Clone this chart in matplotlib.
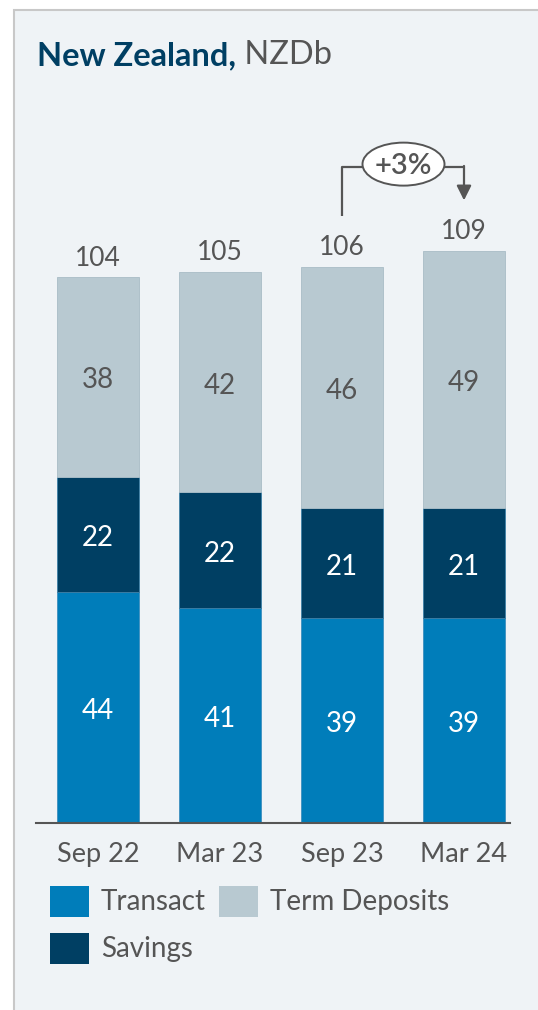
import matplotlib.pyplot as plt
from matplotlib.patches import Ellipse, Rectangle

# Chart data
periods = ['Sep 22', 'Mar 23', 'Sep 23', 'Mar 24']
transact = [44, 41, 39, 39]
savings = [22, 22, 21, 21]
term_deposits = [38, 42, 46, 49]
totals = [104, 105, 106, 109]
change_label = '+3%'

c_transact = '#007dba'
c_savings = '#003f63'
c_td = '#b8c9d1'
c_text = '#555555'
c_bg = '#eff3f6'

plt.rcParams['font.family'] = ['Lato', 'DejaVu Sans']

W, H = 538, 1010
fig = plt.figure(figsize=(W / 100, H / 100), dpi=100)
fig.patch.set_facecolor('white')

# panel background with thin grey border on top / left
fig.patches.append(Rectangle((14 / W, -0.01), 1, 1.01 - 10 / H, transform=fig.transFigure,
                             facecolor=c_bg, edgecolor='#c8c8c8', linewidth=1.5, zorder=-10))

# axes placed in pixel terms
x0, x1 = 36, 510
base, top = 823, 100
ax = fig.add_axes([x0 / W, 1 - base / H, (x1 - x0) / W, (base - top) / H])
ax.set_facecolor('none')
px_unit = 122.0
ax.set_xlim(-(98 - x0) / px_unit, 3 + (x1 - 464) / px_unit)
ax.set_ylim(0, (base - top) / 5.25)

xs = list(range(len(periods)))
bw = 82 / px_unit
ax.bar(xs, transact, bw, color=c_transact, edgecolor='#3d8fbf', linewidth=0.6)
ax.bar(xs, savings, bw, bottom=transact, color=c_savings, edgecolor='#3d7fa6', linewidth=0.6)
bottom_td = [t + s for t, s in zip(transact, savings)]
ax.bar(xs, term_deposits, bw, bottom=bottom_td, color=c_td, edgecolor='#a9bcc6', linewidth=0.6)

# segment labels sit a touch below centre, like the original typeface
dy = -0.7
for i in xs:
    ax.text(i, transact[i] / 2 + dy, str(transact[i]), ha='center', va='center',
            color='white', fontsize=20)
    ax.text(i, transact[i] + savings[i] / 2 + dy, str(savings[i]), ha='center', va='center',
            color='white', fontsize=20)
    ax.text(i, bottom_td[i] + term_deposits[i] / 2 + dy, str(term_deposits[i]), ha='center',
            va='center', color=c_text, fontsize=20)
    ax.text(i, totals[i] + 1.2, str(totals[i]), ha='center', va='bottom',
            color=c_text, fontsize=19)

# growth bracket Sep 23 -> Mar 24
y_h = 125.0
ax.plot([2, 2, 3], [115.6, y_h, y_h], color=c_text, lw=1.6, solid_capstyle='butt')
ax.annotate('', xy=(3, 118.6), xytext=(3, y_h + 0.15),
            arrowprops=dict(arrowstyle='-|>', color=c_text, lw=1.6,
                            mutation_scale=22, shrinkA=0, shrinkB=0))
ex = 2 + (403 - 341.5) / px_unit
ax.add_patch(Ellipse((ex, 125.5), 82 / px_unit, 43 / 5.25,
                     facecolor='white', edgecolor=c_text, lw=1.4, zorder=5))
ax.text(ex, 125.2, change_label, ha='center', va='center',
        color=c_text, fontsize=21, fontweight='semibold', zorder=6)

ax.set_xticks(xs)
ax.set_xticklabels(periods, fontsize=19.5, color=c_text)
ax.tick_params(axis='x', length=0, pad=14)
ax.set_yticks([])
for s in ['top', 'right', 'left']:
    ax.spines[s].set_visible(False)
ax.spines['bottom'].set_color(c_text)
ax.spines['bottom'].set_linewidth(1.5)

# title
t1 = fig.text(37 / W, 1 - 65 / H, 'New Zealand,', fontsize=23.5, fontweight='bold',
              color=c_savings, va='baseline')
ax.annotate(' NZDb', xy=(1, 0), xycoords=t1, fontsize=23.5, color=c_text,
            va='bottom', ha='left', annotation_clip=False)

# legend drawn manually
legend_items = [('Transact', c_transact, 50, 886), ('Term Deposits', c_td, 219, 886),
                ('Savings', c_savings, 50, 933)]
for label, col, lx, ly in legend_items:
    fig.patches.append(Rectangle((lx / W, 1 - (ly + 31) / H), 39 / W, 31 / H,
                                 transform=fig.transFigure, facecolor=col, edgecolor='none'))
    fig.text((lx + 51) / W, 1 - (ly + 16) / H, label, fontsize=20, color=c_text,
             va='center', ha='left')

fig.savefig('out.png', dpi=100, facecolor=fig.get_facecolor())
